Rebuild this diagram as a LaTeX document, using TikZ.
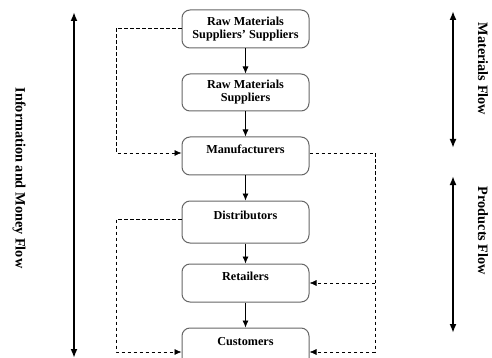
\documentclass[tikz,border=0pt]{standalone}
\usepackage{fontspec}
\setmainfont{Liberation Serif}
\usetikzlibrary{arrows.meta}
\tikzset{
  box/.style={draw=black!60, line width=1pt, rounded corners=8pt, minimum width=127pt, align=center, inner sep=0pt, font=\fontsize{12.2}{13}\selectfont\bfseries, text=black},
  flow/.style={-{Latex[length=7pt,width=6pt]}, line width=0.7pt},
  dflow/.style={-{Latex[length=7pt,width=6pt]}, line width=0.7pt, dash pattern=on 3.5pt off 2.5pt},
  big/.style={{Latex[length=9pt,width=7pt]}-{Latex[length=9pt,width=7pt]}, line width=2pt},
  side/.style={rotate=-90, font=\fontsize{14.3}{16}\selectfont\bfseries}
}
\begin{document}
\begin{tikzpicture}[x=1pt,y=-1pt]
\useasboundingbox (0,0) rectangle (492,358);
\clip (0,0) rectangle (492,358);
\node[box, minimum height=38pt] (rmss) at (245.5,29) {Raw Materials\\Suppliers’ Suppliers};
\node[box, minimum height=37pt] (rms) at (245.5,92.5) {Raw Materials\\Suppliers};
\node[box, minimum height=38pt] (man) at (245.5,156) {Manufacturers\\\mbox{}};
\node[box, minimum height=42pt] (dis) at (245.5,222) {Distributors\\\mbox{}};
\node[box, minimum height=38pt] (ret) at (245.5,283) {Retailers\\\mbox{}};
\node[box, minimum height=40pt] (cus) at (245.5,348) {Customers\\\mbox{}};
\draw[flow] (rmss) -- (rms);
\draw[flow] (rms) -- (man);
\draw[flow] (man) -- (dis);
\draw[flow] (dis) -- (ret);
\draw[flow] (ret) -- (cus);
% dashed information lines
\coordinate (l1) at (116,28);
\coordinate (l2) at (116,153);
\draw[dflow] (rmss.west |- l1) -- (l1) -- (l2) -- (man.west |- l2);
\coordinate (l3) at (116,219);
\coordinate (l4) at (116,352);
\draw[dflow] (dis.west |- l3) -- (l3) -- (l4) -- (cus.west |- l4);
\coordinate (r1) at (375,153);
\coordinate (r2) at (375,283);
\coordinate (r3) at (375,352);
\draw[dash pattern=on 3.5pt off 2.5pt, line width=0.7pt] (man.east |- r1) -- (r1) -- (r3);
\draw[dflow] (r2) -- (ret.east |- r2);
\draw[dflow] (r3) -- (cus.east |- r3);
% big arrows
\coordinate (a1) at (74,12);
\coordinate (a2) at (74,358);
\draw[big] (a1) -- (a2);
\coordinate (m1) at (453,11);
\coordinate (m2) at (453,148);
\draw[big] (m1) -- (m2);
\coordinate (p1) at (453,176);
\coordinate (p2) at (453,333);
\draw[big] (p1) -- (p2);
\node[side] (info) at (19,178) {Information and Money Flow};
\node[side] (matf) at (483,69) {Materials Flow};
\node[side] (prodf) at (483,231) {Products Flow};
\end{tikzpicture}
\end{document}
